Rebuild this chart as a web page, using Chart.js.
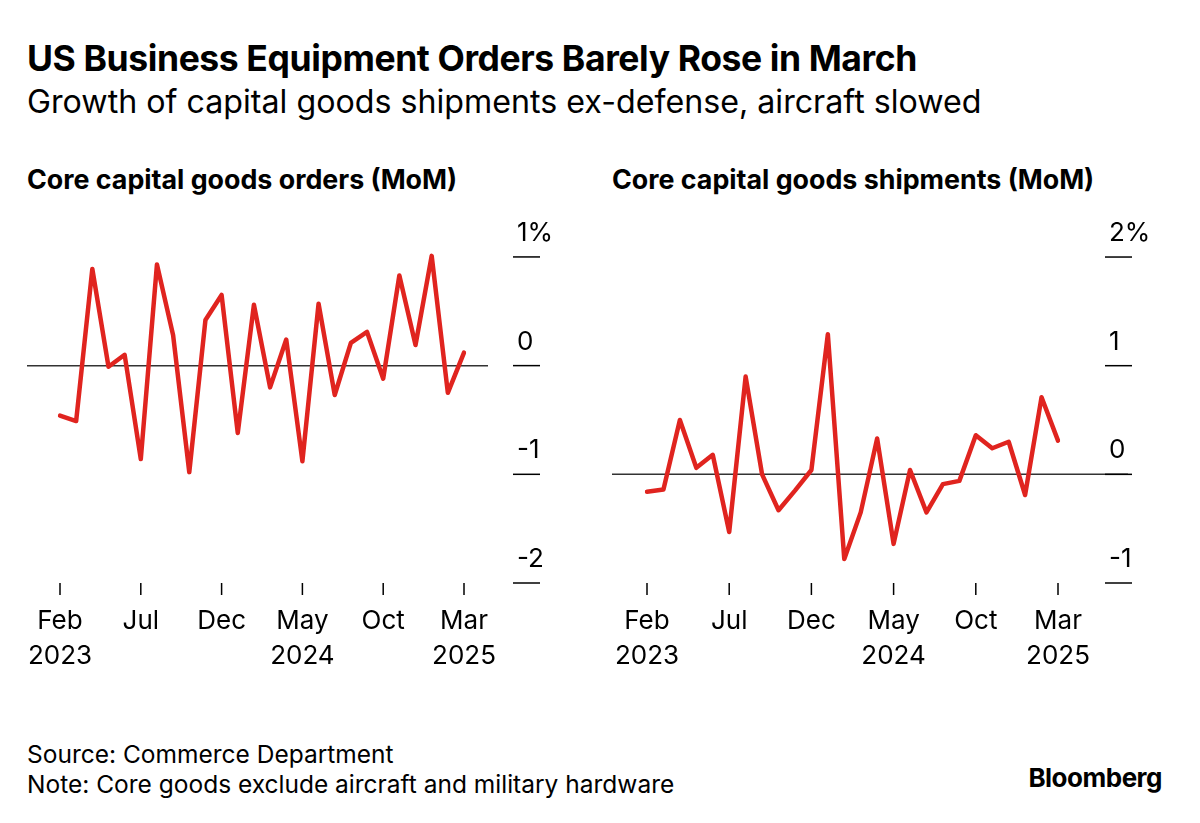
<!DOCTYPE html>
<html>
<head>
<meta charset="utf-8">
<script src="https://cdn.jsdelivr.net/npm/chart.js@4"></script>
<style>
  body { margin: 0; width: 1200px; height: 823px; background: #fff; font-family: Inter, "Liberation Sans", sans-serif; color: #000; position: relative; overflow: hidden; }
  .t { position: absolute; white-space: nowrap; }
  #title { left: 27px; top: 37px; font-size: 35.5px; font-weight: 700; letter-spacing: -0.4px; }
  #sub { left: 27px; top: 82px; font-size: 32.2px; }
  .ptitle { top: 163px; font-size: 26.8px; font-weight: 700; }
  .foot { left: 27px; font-size: 24.5px; }
  #logo { right: 38px; top: 762px; font-size: 26px; font-weight: 700; letter-spacing: -0.5px; }
  canvas { position: absolute; }
</style>
</head>
<body>
<div class="t" id="title">US Business Equipment Orders Barely Rose in March</div>
<div class="t" id="sub">Growth of capital goods shipments ex-defense, aircraft slowed</div>
<div class="t ptitle" style="left:27px">Core capital goods orders (MoM)</div>
<div class="t ptitle" style="left:612px">Core capital goods shipments (MoM)</div>
<div class="t foot" style="top:739px">Source: Commerce Department</div>
<div class="t foot" style="top:769px">Note: Core goods exclude aircraft and military hardware</div>
<div class="t" id="logo">Bloomberg</div>
<div style="position:absolute;left:0;top:220px;width:600px;height:480px"><canvas id="left"></canvas></div>
<div style="position:absolute;left:600px;top:220px;width:600px;height:480px"><canvas id="right"></canvas></div>
<script>
// Feb 2023 .. Mar 2025
const months = ['Feb 2023','Mar 2023','Apr 2023','May 2023','Jun 2023','Jul 2023','Aug 2023','Sep 2023','Oct 2023','Nov 2023','Dec 2023',
  'Jan 2024','Feb 2024','Mar 2024','Apr 2024','May 2024','Jun 2024','Jul 2024','Aug 2024','Sep 2024','Oct 2024','Nov 2024','Dec 2024',
  'Jan 2025','Feb 2025','Mar 2025'];
const ordersMoM = [-0.46,-0.51,0.89,-0.01,0.10,-0.86,0.93,0.28,-0.98,0.42,0.65,-0.62,0.56,-0.20,0.24,-0.88,0.57,-0.27,0.21,0.31,-0.12,0.83,0.19,1.01,-0.25,0.12];
const shipmentsMoM = [-0.16,-0.14,0.50,0.06,0.18,-0.53,0.90,0.00,-0.33,-0.15,0.04,1.29,-0.78,-0.35,0.33,-0.64,0.04,-0.35,-0.09,-0.06,0.36,0.24,0.30,-0.19,0.71,0.31];
const xTickIdx = [0,5,10,15,20,25];
const xTickLine1 = ['Feb','Jul','Dec','May','Oct','Mar'];
const xTickLine2 = ['2023','','','2024','','2025'];
const ordersTicks = [1,0,-1,-2];
const shipmentsTicks = [2,1,0,-1];

const FONT = 'Inter, "Liberation Sans", sans-serif';

function axisPlugin(ticks, zeroFrom, zeroTo, tickX) {
  return {
    id: 'axes',
    beforeDatasetsDraw(chart) {
      const ctx = chart.ctx, y = chart.scales.y, x = chart.scales.x;
      ctx.save();
      // zero line
      ctx.strokeStyle = '#333'; ctx.lineWidth = 1.5;
      const y0 = y.getPixelForValue(0);
      ctx.beginPath(); ctx.moveTo(zeroFrom, y0); ctx.lineTo(zeroTo, y0); ctx.stroke();
      // y ticks
      ctx.strokeStyle = '#000'; ctx.lineWidth = 1.5;
      ctx.fillStyle = '#000'; ctx.font = '26px ' + FONT; ctx.textBaseline = 'alphabetic'; ctx.textAlign = 'left';
      ticks.forEach((v, i) => {
        const py = y.getPixelForValue(v);
        ctx.beginPath(); ctx.moveTo(tickX, py); ctx.lineTo(tickX + 27, py); ctx.stroke();
        const lbl = (i === 0 ? v + '%' : String(v));
        ctx.fillText(lbl, tickX + 4, py - 16);
      });
      // x ticks
      const base = y.getPixelForValue(y.min);
      ctx.textAlign = 'center';
      xTickIdx.forEach((idx, i) => {
        const px = x.getPixelForValue(idx);
        ctx.beginPath(); ctx.moveTo(px, base); ctx.lineTo(px, base + 12); ctx.stroke();
        ctx.fillText(xTickLine1[i], px, base + 46);
        if (xTickLine2[i]) ctx.fillText(xTickLine2[i], px, base + 81);
      });
      ctx.restore();
    }
  };
}

function makeChart(id, data, min, max, pad, ticks, zeroFrom, zeroTo, tickX) {
  return new Chart(document.getElementById(id), {
    type: 'line',
    data: { labels: months, datasets: [{ data: data, borderColor: '#e0241f', borderWidth: 4.5, pointRadius: 0, tension: 0, borderJoinStyle: 'round', borderCapStyle: 'round' }] },
    options: {
      responsive: true, maintainAspectRatio: false, animation: false,
      layout: { padding: pad },
      plugins: { legend: { display: false }, tooltip: { enabled: false } },
      scales: {
        x: { type: 'category', display: false, offset: false },
        y: { display: false, min: min, max: max }
      }
    },
    plugins: [axisPlugin(ticks, zeroFrom, zeroTo, tickX)]
  });
}

makeChart('left', ordersMoM, -2, 1.2, { left: 60, right: 136, top: 15.2, bottom: 117 }, ordersTicks, 27, 488, 513);
makeChart('right', shipmentsMoM, -1, 2.2, { left: 47, right: 142, top: 15.3, bottom: 117 }, shipmentsTicks, 12, 528, 505);
</script>
</body>
</html>
